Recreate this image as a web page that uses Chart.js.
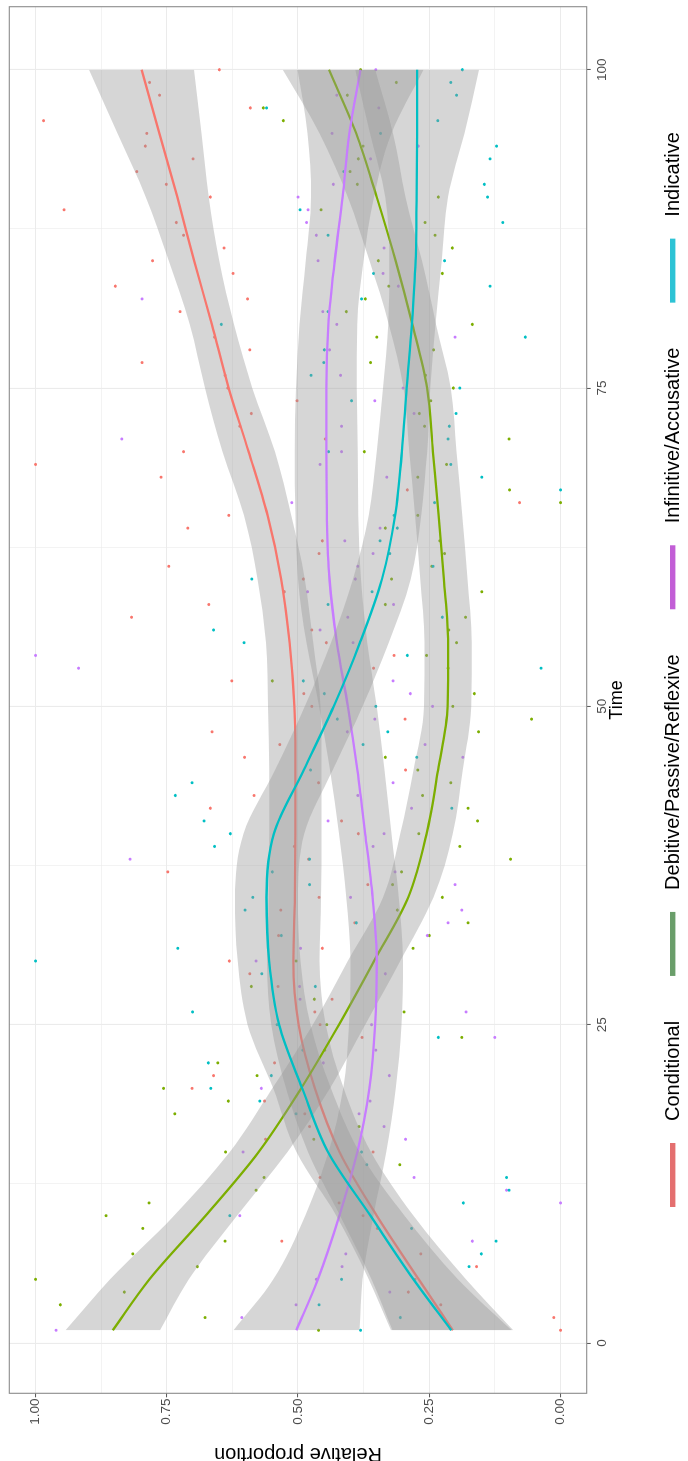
<!DOCTYPE html>
<html><head><meta charset="utf-8">
<script src="https://cdn.jsdelivr.net/npm/chart.js@4.4.1/dist/chart.umd.min.js"></script>
<style>
html,body{margin:0;padding:0;background:#fff;width:688px;height:1461px;overflow:hidden;}
#wrap{position:absolute;left:0;top:0;width:1461px;height:688px;transform-origin:0 0;transform:translateY(1461px) rotate(-90deg);background:#fff;}
canvas{display:block;}
</style></head><body>
<div id="wrap"><canvas id="c" width="1461" height="688"></canvas></div>
<script>
const seriesNames = ['Conditional','Debitive/Passive/Reflexive','Infinitive/Accusative','Indicative'];
const seriesColors = ['#F8766D','#7CAE00','#C77CFF','#00BFC4'];
const legendColors = ['#E46F6F','#6A9E6A','#C25ED6','#2DC3D5'];
const timeMajor = [0,25,50,75,100];
const timeMinor = [12.5,37.5,62.5,87.5];
const propMajor = [0,0.25,0.5,0.75,1];
const propMinor = [0.125,0.375,0.625,0.875];
const propLabels = ['0.00','0.25','0.50','0.75','1.00'];

// observation times 1..100
const obsTime = Array.from({length:100},(_,i)=>i+1);

const obsConditional = [0.0,0.013,0.228,0.29,0.277,0.16,0.266,0.531,0.349,0.376,
 0.422,null,0.458,null,0.357,0.562,0.478,0.487,0.564,0.702,
 0.661,0.545,null,0.378,0.458,0.468,0.435,0.538,0.592,0.631,
 0.454,0.537,0.392,0.533,0.46,0.367,0.748,0.48,0.507,0.385,
 0.417,0.667,0.584,0.461,0.295,0.602,0.535,0.664,0.296,0.474,
 0.489,0.626,0.356,0.317,0.446,0.474,0.817,0.67,0.526,0.49,
 0.746,0.46,0.454,0.71,0.632,0.078,0.292,0.761,1.0,0.718,
 0.448,0.611,0.589,0.502,0.634,0.639,0.797,0.592,0.659,null,
 0.725,0.596,0.848,0.624,0.777,0.641,0.718,0.732,0.946,0.667,
 0.751,0.807,0.70,0.791,0.788,0.985,0.591,0.764,0.783,0.65];
const obsDebitive = [0.461,0.677,0.953,0.831,1.0,0.692,0.815,0.639,0.796,0.866,
 0.784,0.58,0.565,0.306,0.638,0.47,0.384,0.735,0.633,0.756,
 0.578,0.653,0.449,0.188,0.445,0.298,0.469,0.589,null,0.504,
 0.281,0.25,0.176,0.311,0.225,0.32,0.303,0.095,0.192,0.27,
 0.158,0.176,0.263,0.209,0.272,0.334,null,0.156,0.055,0.205,
 0.164,0.549,0.214,0.255,0.198,0.213,0.181,0.334,0.15,0.322,
 0.245,0.221,0.23,0.334,0.272,0.0,0.097,0.272,0.217,0.374,
 0.098,0.259,0.269,0.247,0.204,0.257,0.362,0.242,0.35,0.168,
 0.408,0.372,0.327,0.225,0.347,0.206,0.239,0.258,0.456,0.233,
 0.387,0.401,0.385,0.376,null,0.528,0.566,0.406,0.313,0.381];
const obsInfinitive = [0.961,0.607,0.504,0.325,0.465,0.416,0.409,0.168,null,0.611,
 0.0,0.103,0.279,null,0.605,0.295,0.336,0.384,0.363,0.57,
 0.326,0.452,0.352,0.125,0.36,0.18,0.496,0.497,0.334,0.58,
 0.495,0.254,0.214,0.188,0.40,0.201,0.315,0.82,0.357,0.336,
 0.443,0.284,0.386,0.319,null,0.186,0.258,0.406,0.354,0.244,
 0.286,0.319,0.918,1.0,0.395,0.458,0.405,0.318,0.482,0.391,
 0.386,0.357,0.411,0.344,null,0.512,null,0.331,0.458,0.417,
 0.836,0.417,0.279,0.354,0.30,0.419,null,0.44,0.201,0.426,
 0.453,0.797,0.309,0.338,0.462,0.336,0.465,0.484,0.481,0.50,
 0.433,null,0.362,0.271,0.435,null,0.346,0.426,null,0.352];
const obsIndicative = [0.381,0.305,0.46,null,0.417,0.174,0.151,0.123,0.284,0.63,
 0.185,0.098,0.103,0.369,0.379,null,null,0.504,0.573,0.666,
 0.551,0.671,0.491,0.233,0.54,0.701,null,0.467,0.569,1.0,
 0.729,0.532,0.389,0.601,0.586,0.478,0.549,0.478,0.659,0.629,
 0.679,0.207,0.734,0.702,0.476,0.274,0.376,0.329,0.425,0.352,
 0.45,0.49,0.037,0.292,0.603,0.661,0.225,0.443,0.359,0.588,
 0.243,0.325,0.344,0.311,0.317,0.24,0.0,0.15,0.209,0.442,
 0.214,0.212,0.199,0.398,0.192,0.475,0.451,0.45,0.067,0.646,
 0.443,0.379,0.134,0.356,0.221,null,0.443,0.11,0.496,0.139,
 0.145,0.413,0.134,0.122,0.343,0.234,0.56,0.198,0.209,0.187];

// loess smooth + confidence band
const smoothTime = [1,5,10,15,20,25,30,35,40,45,50,55,60,65,70,75,80,85,90,95,100];
const fitConditional = [0.205,0.27,0.35,0.421,0.468,0.499,0.509,0.506,0.505,0.505,0.507,0.516,0.532,0.558,0.594,0.632,0.664,0.698,0.73,0.764,0.798];
const loConditional  = [0.09,0.18,0.28,0.361,0.413,0.447,0.459,0.456,0.455,0.455,0.457,0.471,0.487,0.513,0.544,0.587,0.622,0.65,0.67,0.684,0.698];
const hiConditional  = [0.32,0.36,0.42,0.481,0.523,0.551,0.559,0.556,0.555,0.555,0.557,0.561,0.577,0.603,0.644,0.677,0.706,0.746,0.79,0.844,0.898];
const fitDebitive = [0.853,0.783,0.676,0.575,0.494,0.422,0.355,0.29,0.255,0.233,0.215,0.214,0.222,0.232,0.243,0.254,0.282,0.314,0.35,0.389,0.441];
const loDebitive  = [0.763,0.708,0.616,0.52,0.439,0.372,0.305,0.242,0.205,0.186,0.17,0.169,0.177,0.187,0.198,0.209,0.237,0.264,0.295,0.319,0.353];
const hiDebitive  = [0.943,0.858,0.736,0.63,0.549,0.472,0.405,0.338,0.305,0.28,0.26,0.259,0.267,0.277,0.288,0.299,0.327,0.364,0.405,0.459,0.529];
const fitInfinitive = [0.503,0.462,0.421,0.387,0.364,0.353,0.35,0.358,0.372,0.387,0.405,0.426,0.44,0.445,0.446,0.446,0.442,0.43,0.415,0.402,0.381];
const loInfinitive  = [0.383,0.377,0.356,0.332,0.314,0.303,0.3,0.308,0.322,0.335,0.35,0.368,0.38,0.385,0.386,0.388,0.387,0.375,0.355,0.322,0.261];
const hiInfinitive  = [0.623,0.547,0.486,0.442,0.414,0.403,0.40,0.408,0.422,0.439,0.46,0.484,0.50,0.505,0.506,0.504,0.497,0.485,0.475,0.482,0.501];
const fitIndicative = [0.208,0.28,0.362,0.443,0.492,0.536,0.555,0.56,0.546,0.489,0.432,0.382,0.34,0.315,0.302,0.293,0.283,0.276,0.274,0.273,0.273];
const loIndicative  = [0.093,0.195,0.297,0.383,0.437,0.476,0.495,0.50,0.488,0.434,0.377,0.327,0.285,0.265,0.254,0.248,0.238,0.226,0.214,0.183,0.155];
const hiIndicative  = [0.323,0.365,0.427,0.503,0.547,0.596,0.615,0.62,0.604,0.544,0.487,0.437,0.395,0.365,0.35,0.338,0.328,0.326,0.334,0.363,0.391];

const FONT = '"Liberation Sans", Arial, Helvetica, sans-serif';
const obs = [obsConditional, obsDebitive, obsInfinitive, obsIndicative];
const fits = [fitConditional, fitDebitive, fitInfinitive, fitIndicative];
const los = [loConditional, loDebitive, loInfinitive, loIndicative];
const his = [hiConditional, hiDebitive, hiInfinitive, hiIndicative];

const datasets = [];
obs.forEach((arr,i)=>{
  datasets.push({
    label: seriesNames[i],
    data: obsTime.map((t,j)=>({x:t,y:arr[j]})).filter(d=>d.y!==null),
    showLine:false, pointRadius:1.5, pointHoverRadius:0,
    pointBackgroundColor:seriesColors[i], pointBorderColor:seriesColors[i], pointBorderWidth:0,
    borderColor:'rgba(0,0,0,0)', borderWidth:0, fill:false
  });
});
fits.forEach((f,i)=>{
  datasets.push({label:seriesNames[i]+' lo', data:smoothTime.map((t,j)=>({x:t,y:los[i][j]})),
    borderColor:'rgba(0,0,0,0)', borderWidth:0, pointRadius:0, fill:false});
  datasets.push({label:seriesNames[i]+' hi', data:smoothTime.map((t,j)=>({x:t,y:his[i][j]})),
    borderColor:'rgba(0,0,0,0)', borderWidth:0, pointRadius:0, fill:'-1', backgroundColor:'rgba(153,153,153,0.4)'});
  datasets.push({label:seriesNames[i]+' fit', data:smoothTime.map((t,j)=>({x:t,y:f[j]})),
    borderColor:seriesColors[i], borderWidth:2.3, pointRadius:0, fill:false});
});
datasets.forEach((d,k)=>{ d.order = datasets.length - k; d.cubicInterpolationMode='monotone'; });

const isMajorT = v => timeMajor.some(m=>Math.abs(m-v)<1e-9);
const isMajorP = v => propMajor.some(m=>Math.abs(m-v)<1e-9);

const borderPlugin = {id:'panelBorder', afterDatasetsDraw(chart){
  const {ctx, chartArea:a} = chart; ctx.save(); ctx.strokeStyle='#8C8C8C'; ctx.lineWidth=1.1;
  ctx.strokeRect(a.left, a.top, a.right-a.left, a.bottom-a.top); ctx.restore();
}};
const legendPlugin = {id:'ggLegend', afterDraw(chart){
  const ctx = chart.ctx; ctx.save();
  ctx.font = '20px ' + FONT; ctx.textAlign='left'; ctx.textBaseline='alphabetic';
  let x = 254; const barLen=64, gap=22, space=45, barH=5.4, barY=672.7, baseY=679;
  seriesNames.forEach((n,i)=>{
    ctx.fillStyle = legendColors[i]; ctx.fillRect(x, barY-barH/2, barLen, barH);
    x += barLen + gap; ctx.fillStyle='#000'; ctx.fillText(n, x, baseY);
    x += ctx.measureText(n).width + space;
  });
  ctx.restore();
}};

new Chart(document.getElementById('c'), {
  type:'line',
  data:{datasets},
  plugins:[borderPlugin, legendPlugin],
  options:{
    responsive:false, animation:false, devicePixelRatio:1,
    layout:{padding:{top:8.4,right:6.7,bottom:41.3,left:0}},
    plugins:{legend:{display:false}, tooltip:{enabled:false}},
    events:[],
    scales:{
      x:{type:'linear', min:-3.95, max:104.95,
        afterBuildTicks:s=>{ s.ticks=[...timeMajor,...timeMinor].sort((a,b)=>a-b).map(v=>({value:v})); },
        afterFit:s=>{ s.height=60; },
        ticks:{autoSkip:false, maxRotation:0, minRotation:0, padding:3.5, color:'#4D4D4D', font:{family:FONT,size:13.5},
          callback:v=> isMajorT(v) ? String(v) : ''},
        grid:{color:'#EBEBEB', lineWidth:c=> (c.tick && isMajorT(c.tick.value)) ? 1.1 : 0.6,
          drawTicks:true, tickLength:4, tickWidth:1,
          tickColor:c=> (c.tick && isMajorT(c.tick.value)) ? '#555555' : 'rgba(0,0,0,0)'},
        border:{display:false},
        title:{display:true, text:'Time', color:'#000', font:{family:FONT,size:18}, padding:{top:0,bottom:18.7}}
      },
      y:{type:'linear', min:-0.05, max:1.05,
        afterBuildTicks:s=>{ s.ticks=[...propMajor,...propMinor].sort((a,b)=>a-b).map(v=>({value:v})); },
        afterFit:s=>{ s.width=67.7; },
        ticks:{autoSkip:false, padding:1.2, color:'#4D4D4D', font:{family:FONT,size:13.5},
          callback:v=>{ const k=propMajor.findIndex(m=>Math.abs(m-v)<1e-9); return k>=0 ? propLabels[k] : ''; }},
        grid:{color:'#EBEBEB', lineWidth:c=> (c.tick && isMajorP(c.tick.value)) ? 1.1 : 0.6,
          drawTicks:true, tickLength:4, tickWidth:1,
          tickColor:c=> (c.tick && isMajorP(c.tick.value)) ? '#555555' : 'rgba(0,0,0,0)'},
        border:{display:false},
        title:{display:true, text:'Relative proportion', color:'#000', font:{family:FONT,size:20,lineHeight:0.76}, padding:{top:0,bottom:0}}
      }
    }
  }
});
</script>
</body></html>
